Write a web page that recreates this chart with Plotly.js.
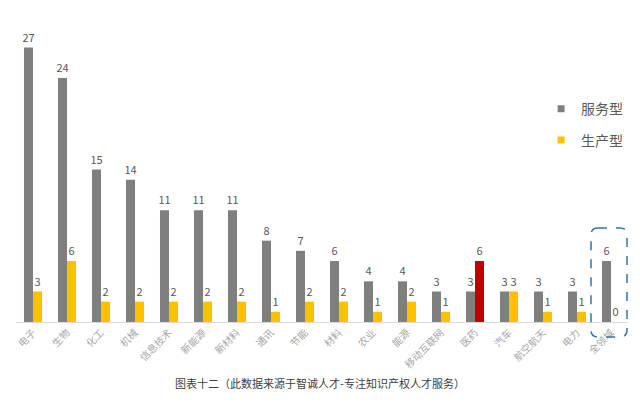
<!DOCTYPE html>
<html><head><meta charset="utf-8">
<script src="https://cdn.plot.ly/plotly-3.0.1.min.js"></script>
<style>html,body{margin:0;padding:0;background:#fff}#c{width:640px;height:410px}</style>
</head><body><div id="c"></div>
<script>
const categories = ["电子","生物","化工","机械","信息技术","新能源","新材料","通讯","节能","材料","农业","能源","移动互联网","医药","汽车","航空航天","电力","全领域"];
const serviceValues = [27,24,15,14,11,11,11,8,7,6,4,4,3,3,3,3,3,6];
const productionValues = [3,6,2,2,2,2,2,1,2,2,1,2,1,6,3,1,1,0];
const seriesNames = ["服务型","生产型"];
const titleText = "图表十二（此数据来源于智诚人才-专注知识产权人才服务）";

const gray = "#7f7f7f", yellow = "#ffc000", red = "#c00000";
const prodColors = categories.map(c => c === "医药" ? red : yellow);

const textFont = {family: "Noto Sans CJK SC, sans-serif", size: 11, color: "#595959"};
const traces = [
  {type:"bar", name: seriesNames[0], x: categories, y: serviceValues, marker:{color: gray},
   text: serviceValues.map(String), textposition:"outside", textfont: textFont, cliponaxis:false,
   showlegend:false, hoverinfo:"skip"},
  {type:"bar", name: seriesNames[1], x: categories, y: productionValues, marker:{color: prodColors},
   text: productionValues.map(String), textposition:"outside", textfont: textFont, cliponaxis:false,
   showlegend:false, hoverinfo:"skip"},
  {type:"scatter", mode:"markers", name: seriesNames[0], x:[null], y:[null],
   marker:{symbol:"square", size:7, color: gray}, legendgroup:"a", hoverinfo:"skip"},
  {type:"scatter", mode:"markers", name: seriesNames[1], x:[null], y:[null],
   marker:{symbol:"square", size:7, color: yellow}, legendgroup:"b", hoverinfo:"skip"}
];

// rounded dashed rectangle (paper coords)
const W = 612, H = 305;
const x0 = (591-16)/W, x1 = (627-16)/W, y0 = (322-337)/H, y1 = (322-228)/H;
const rx = 7/W, ry = 7/H;
const path = `M ${x0+rx},${y1} L ${x1-rx},${y1} Q ${x1},${y1} ${x1},${y1-ry} L ${x1},${y0+ry} Q ${x1},${y0} ${x1-rx},${y0} L ${x0+rx},${y0} Q ${x0},${y0} ${x0},${y0+ry} L ${x0},${y1-ry} Q ${x0},${y1} ${x0+rx},${y1} Z`;

const layout = {
  width: 640, height: 410,
  margin: {l:16, r:12, t:17, b:88},
  paper_bgcolor:"#fff", plot_bgcolor:"#fff",
  barmode:"group", bargap:0.47, bargroupgap:0,
  uniformtext: {minsize:11, mode:"show"},
  font: {family:"Noto Sans CJK SC, sans-serif"},
  title: {text: titleText, x:0.5, xanchor:"center", y: 1-384/410, yanchor:"middle",
          font:{family:"Noto Sans CJK SC, sans-serif", size:11, color:"#404040"}},
  xaxis: {type:"category", tickangle:-45, showline:true, linecolor:"#d9d9d9", linewidth:1,
          ticks:"", showgrid:false, zeroline:false,
          tickfont:{family:"Noto Sans CJK SC, sans-serif", size:10, color:"#a6a6a6"}},
  yaxis: {range:[0,30], visible:false, showgrid:false, zeroline:false},
  legend: {x: 0.858, y: 0.75, xanchor:"left", yanchor:"top", bgcolor:"rgba(0,0,0,0)",
           font:{family:"Noto Sans CJK SC, sans-serif", size:14, color:"#595959"},
           traceorder:"grouped", tracegroupgap:10, itemwidth:30},
  shapes: [{type:"path", xref:"paper", yref:"paper", path: path,
            line:{color:"#2e75b6", width:1.5, dash:"dash"}, fillcolor:"rgba(0,0,0,0)"}],
  showlegend:true
};
Plotly.newPlot("c", traces, layout, {displayModeBar:false, staticPlot:true});
</script></body></html>
